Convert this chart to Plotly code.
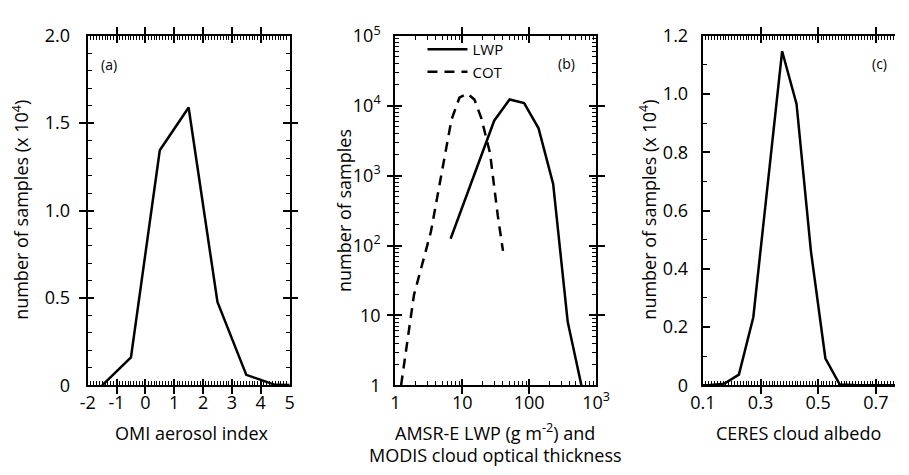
import plotly.graph_objects as go
import numpy as np

# ---------------- data ----------------
# (a) OMI aerosol index histogram (number of samples, x 1e4)
ai_x = [-1.5, -0.5, 0.5, 1.5, 2.5, 3.5, 4.5, 5.5]
ai_y = [0.0, 0.16, 1.345, 1.59, 0.477, 0.06, 0.003, 0.0]

# (b) AMSR-E LWP and MODIS COT histograms (number of samples)
lwp_x = [6.7, 30, 51, 84, 138, 228, 376, 617]
lwp_y = [125, 6100, 12300, 10900, 4750, 760, 8.1, 0.9]
cot_x = [1.22, 1.9, 3.4, 6.9, 9.06, 11.9, 15.2, 19.3, 26, 34, 40.6]
cot_y = [1.0, 19.6, 157, 6300, 13000, 14900, 12300, 6600, 2100, 265, 84]

# (c) CERES cloud albedo histogram (number of samples, x 1e4)
alb_x = [0.025, 0.075, 0.125, 0.175, 0.225, 0.275, 0.325, 0.375, 0.425,
         0.475, 0.525, 0.575, 0.625, 0.675, 0.725, 0.775, 0.825]
alb_y = [0.0, 0.0, 0.001, 0.006, 0.037, 0.234, 0.70, 1.147, 0.966,
         0.46, 0.093, 0.003, 0.001, 0.001, 0.0, 0.0, 0.0]

# tick labels
a_xticks = [-2, -1, 0, 1, 2, 3, 4, 5]
a_xtext = ["-2", "-1", "0", "1", "2", "3", "4", "5"]
a_yticks = [0, 0.5, 1.0, 1.5, 2.0]
a_ytext = ["0", "0.5", "1.0", "1.5", "2.0"]
b_xticks = [1, 10, 100, 1000]
b_xtext = ["1", "10", "100", "10<sup>3</sup>"]
b_yticks = [1, 10, 100, 1000, 1e4, 1e5]
b_ytext = ["1", "10", "10<sup>2</sup>", "10<sup>3</sup>", "10<sup>4</sup>", "10<sup>5</sup>"]
c_xticks = [0.1, 0.3, 0.5, 0.7]
c_xtext = ["0.1", "0.3", "0.5", "0.7"]
c_yticks = [0, 0.2, 0.4, 0.6, 0.8, 1.0, 1.2]
c_ytext = ["0", "0.2", "0.4", "0.6", "0.8", "1.0", "1.2"]

# minor tick positions
a_xminor = list(np.round(np.arange(-2, 5.001, 0.1), 3))
a_yminor = list(np.round(np.arange(0, 2.001, 0.1), 3))
b_minor = [k * 10 ** d for d in range(0, 5) for k in range(2, 10)]
c_xminor = list(np.round(np.arange(0.1, 0.8, 0.01), 3))
c_yminor = list(np.round(np.arange(0, 1.201, 0.1), 3))

# ---------------- layout geometry ----------------
W, H = 909, 475
FONT = "Open Sans"
TICKF = dict(family=FONT, size=18, color="black")
PAD_A = "\u00a0\u00a0\u2009"   # gap between y tick labels and axis
PAD_B = "\u00a0\u00a0"
PAD_C = "\u00a0\u00a0"


def px_x(p):
    return p / W


def px_y(p):
    return 1 - p / H


y_dom = [px_y(392), px_y(23)]
a_dom = [px_x(77), px_x(285)]
b_dom = [px_x(394), px_x(601)]
c_dom = [px_x(711), 1.0]
c_range = [0.1, 0.1 + 198 / 297]

fig = go.Figure()
line = dict(color="black", width=2.5)

fig.add_trace(go.Scatter(x=ai_x, y=ai_y, mode="lines", line=line,
                         showlegend=False, xaxis="x", yaxis="y"))
fig.add_trace(go.Scatter(x=lwp_x, y=lwp_y, mode="lines", line=line,
                         name="LWP", xaxis="x2", yaxis="y2"))
fig.add_trace(go.Scatter(x=cot_x, y=cot_y, mode="lines",
                         line=dict(color="black", width=2.5, dash="10px,7px"),
                         name="COT", xaxis="x2", yaxis="y2"))
fig.add_trace(go.Scatter(x=alb_x, y=alb_y, mode="lines", line=line,
                         showlegend=False, xaxis="x3", yaxis="y3"))
# empty traces carrying the minor-tick overlay axes (each overlays one main axis)
for xa, ya in [("x4", "y"), ("x", "y4"), ("x5", "y2"), ("x2", "y5"),
               ("x6", "y3"), ("x3", "y6")]:
    fig.add_trace(go.Scatter(x=[], y=[], mode="lines", showlegend=False,
                             hoverinfo="skip", xaxis=xa, yaxis=ya))

common = dict(showline=True, linecolor="black", linewidth=1.5, ticks="inside",
              tickcolor="black", tickwidth=1.6, ticklen=7, showgrid=False,
              zeroline=False, tickfont=TICKF)
minor_common = dict(showline=False, ticks="inside",
                    tickcolor="black", tickwidth=1.2, ticklen=4, showgrid=False,
                    zeroline=False, showticklabels=False)

fig.update_layout(
    width=W, height=H,
    margin=dict(l=0, r=0, t=0, b=0),
    paper_bgcolor="white", plot_bgcolor="white",
    font=dict(family=FONT, color="black"),
    # ---- panel (a)
    xaxis=dict(domain=a_dom, range=[-2, 5], anchor="y",
               tickvals=a_xticks, ticktext=a_xtext, mirror="allticks", **common),
    yaxis=dict(domain=y_dom, range=[0, 2.0], anchor="x",
               tickvals=a_yticks, ticktext=[t + PAD_A for t in a_ytext],
               mirror="allticks", **common),
    xaxis4=dict(domain=a_dom, range=[-2, 5], anchor="y", overlaying="x",
                tickvals=a_xminor, mirror="allticks", **minor_common),
    yaxis4=dict(domain=y_dom, range=[0, 2.0], anchor="x", overlaying="y",
                tickvals=a_yminor, mirror="allticks", **minor_common),
    # ---- panel (b)
    xaxis2=dict(domain=b_dom, type="log", range=[0, 3], anchor="y2",
                tickvals=b_xticks, ticktext=b_xtext, mirror="allticks", **common),
    yaxis2=dict(domain=y_dom, type="log", range=[0, 5], anchor="x2",
                tickvals=b_yticks, ticktext=[t + PAD_B for t in b_ytext],
                mirror="allticks", **common),
    xaxis5=dict(domain=b_dom, type="log", range=[0, 3], anchor="y2", overlaying="x2",
                tickvals=b_minor[:24], mirror="allticks", **minor_common),
    yaxis5=dict(domain=y_dom, type="log", range=[0, 5], anchor="x2", overlaying="y2",
                tickvals=b_minor, mirror="allticks", **minor_common),
    # ---- panel (c)
    xaxis3=dict(domain=c_dom, range=c_range, anchor="y3",
                tickvals=c_xticks, ticktext=c_xtext, mirror="allticks", **common),
    yaxis3=dict(domain=y_dom, range=[0, 1.2], anchor="x3",
                tickvals=c_yticks, ticktext=[t + PAD_C for t in c_ytext],
                mirror=False, **common),
    xaxis6=dict(domain=c_dom, range=c_range, anchor="y3", overlaying="x3",
                tickvals=c_xminor, mirror="allticks", **minor_common),
    yaxis6=dict(domain=y_dom, range=[0, 1.2], anchor="x3", overlaying="y3",
                tickvals=c_yminor, mirror=False, **minor_common),
    legend=dict(x=px_x(422), y=px_y(20), xanchor="left", yanchor="top",
                bgcolor="rgba(0,0,0,0)", borderwidth=0,
                font=dict(family=FONT, size=15, color="black"),
                itemwidth=40, tracegroupgap=0),
)

TITLEF = dict(family=FONT, size=18, color="black")
ann = [
    # panel labels
    dict(text="(a)", x=px_x(99), y=px_y(53), font=dict(family=FONT, size=14)),
    dict(text="(b)", x=px_x(570), y=px_y(52), font=dict(family=FONT, size=14)),
    dict(text="(c)", x=px_x(893), y=px_y(52), font=dict(family=FONT, size=14)),
    # x titles
    dict(text="OMI aerosol index", x=px_x(184), y=px_y(442), font=TITLEF),
    dict(text="AMSR-E LWP (g m<sup>-2</sup>) and", x=px_x(497), y=px_y(441), font=TITLEF),
    dict(text="MODIS cloud optical thickness", x=px_x(497), y=px_y(465), font=TITLEF),
    dict(text="CERES cloud albedo", x=px_x(810), y=px_y(442), font=TITLEF),
    # y titles
    dict(text="number of samples (x 10<sup>4</sup>)", x=px_x(8), y=px_y(207),
         textangle=-90, font=TITLEF),
    dict(text="number of samples", x=px_x(341), y=px_y(207), textangle=-90, font=TITLEF),
    dict(text="number of samples (x 10<sup>4</sup>)", x=px_x(655), y=px_y(207),
         textangle=-90, font=TITLEF),
]
for a in ann:
    a.update(xref="paper", yref="paper", showarrow=False, xanchor="center", yanchor="middle")
fig.update_layout(annotations=ann)

fig.write_html("out.html")
